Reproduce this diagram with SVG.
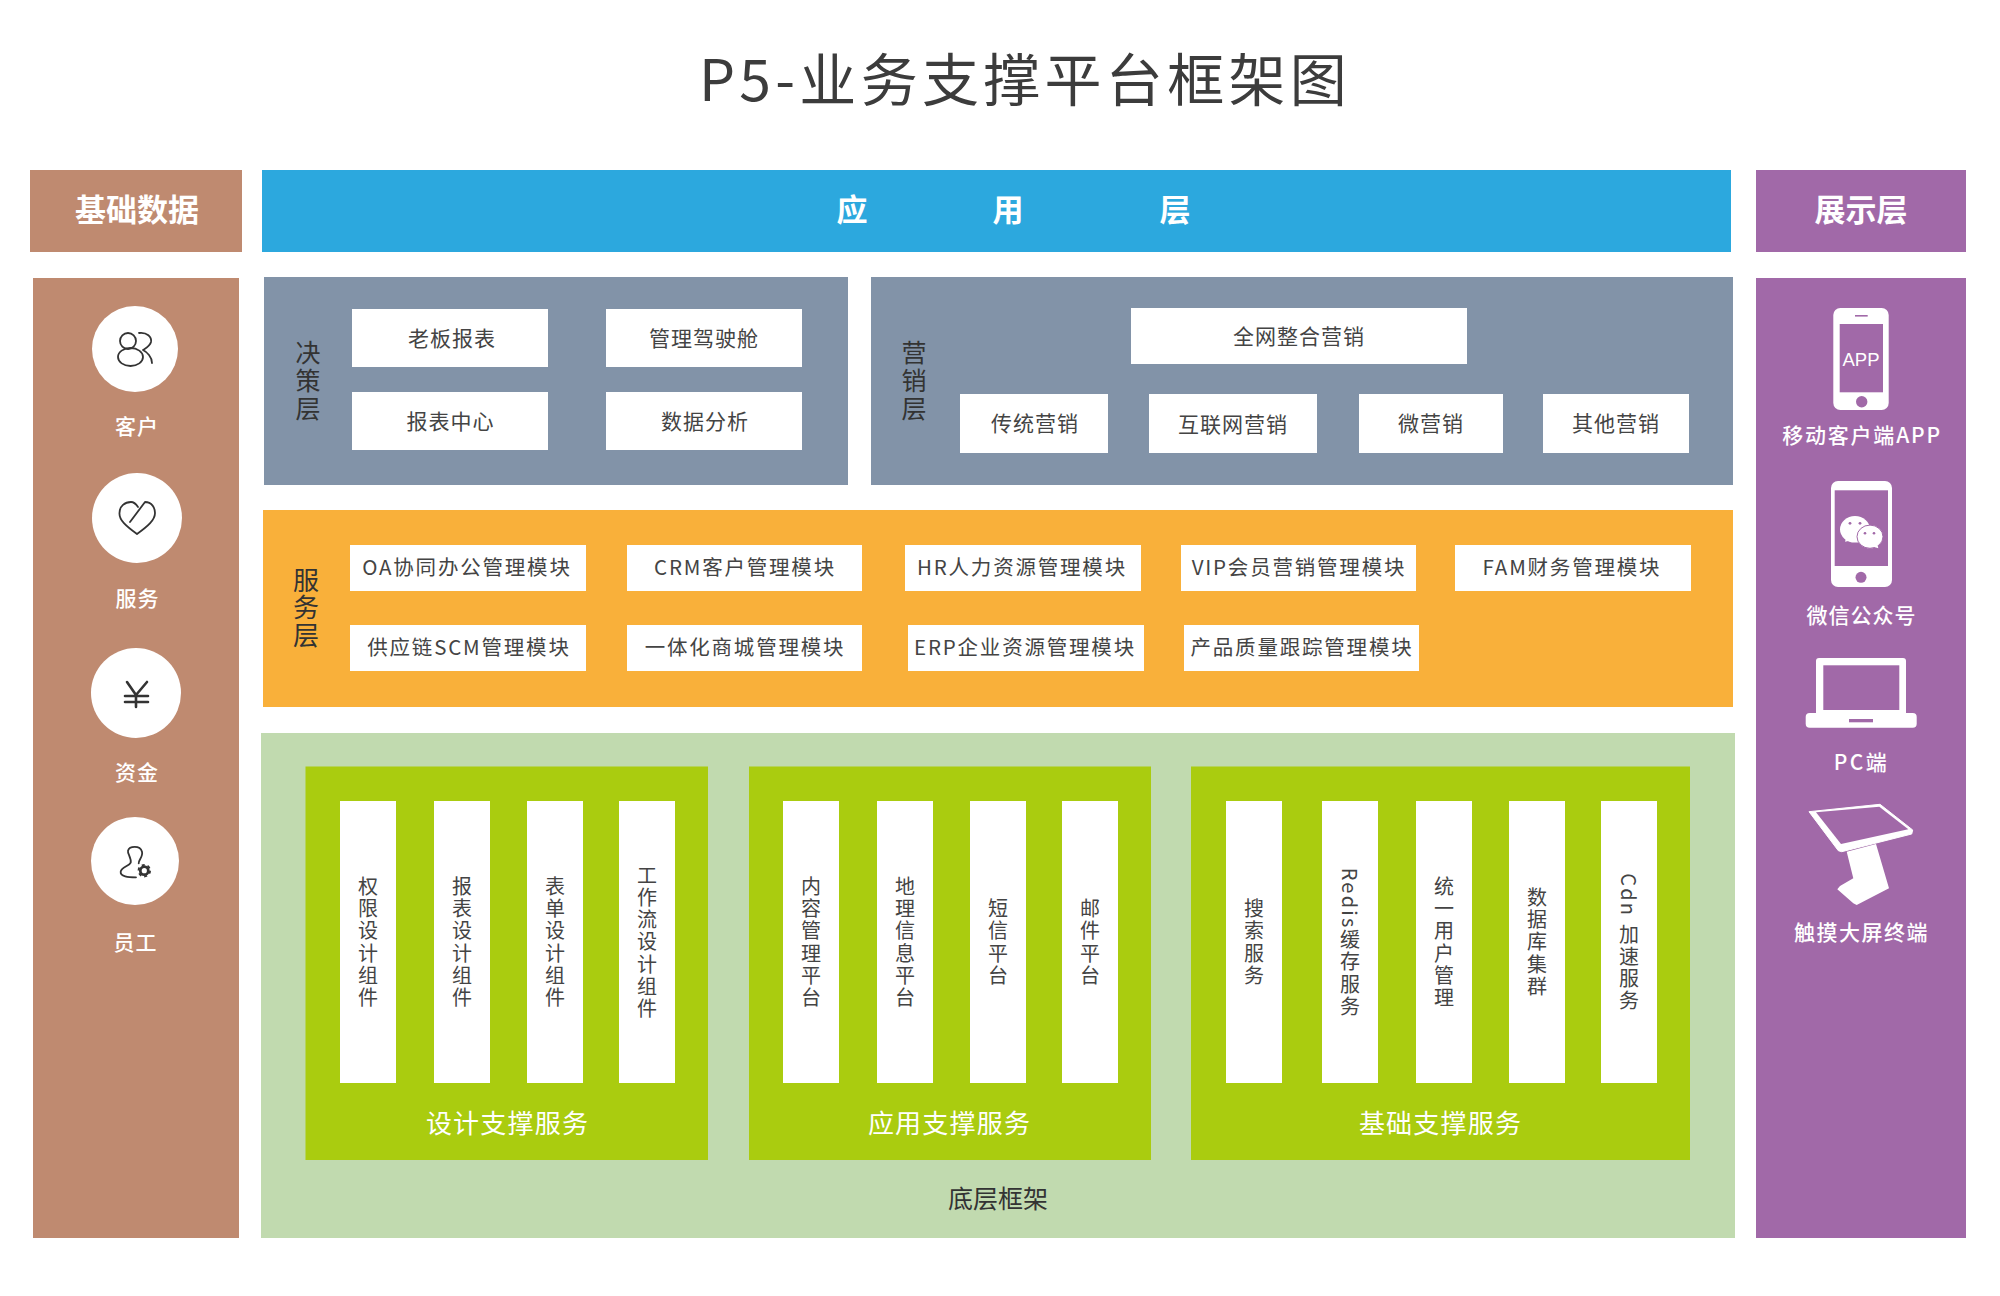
<svg xmlns="http://www.w3.org/2000/svg" width="2000" height="1296" viewBox="0 0 2000 1296">
<style>
text{font-family:"Noto Sans CJK SC","Noto Sans",sans-serif;dominant-baseline:central;text-anchor:middle;fill:#444}
.w{fill:#fff}
.box{fill:#fff}
.t{font-size:21px;letter-spacing:1px}
.m{font-size:20.5px;letter-spacing:1.8px}
.v{writing-mode:vertical-rl;font-size:20px;letter-spacing:2.2px}
.lay{writing-mode:vertical-rl;font-size:25px;letter-spacing:3px;fill:#333}
.h{font-size:31px;font-weight:700;fill:#fff}
.l{font-size:21px;font-weight:500;fill:#fff;letter-spacing:1px}
.s{font-size:26px;fill:#fff;letter-spacing:1.2px}
.brown{fill:#BF8A70}
.pur{fill:#A169A8}
.ic{fill:none;stroke:#333;stroke-width:1.8;stroke-linecap:round;stroke-linejoin:round}
</style>
<rect width="2000" height="1296" fill="#fff"/>
<g id="title"><text x="1025" y="76" style="font-size:57px;letter-spacing:4.3px;fill:#3c3c3c">P5-业务支撑平台框架图</text></g>

<g id="base-data">
<rect class="brown" x="30" y="170" width="212" height="82"/>
<text class="h" x="137" y="207.500">基础数据</text>
<rect class="brown" x="33" y="278" width="206" height="960"/>
</g>
<g id="customer">
<circle cx="135" cy="349" r="43" fill="#fff"/>
<circle class="ic" cx="128" cy="341" r="8"/>
<ellipse class="ic" cx="130.5" cy="357" rx="12.5" ry="9"/>
<path class="ic" d="M139 333C147 332 152 337 151 342C150 346 146 348 143 350C147 352 152 357 152 363"/>
<text class="l" x="137" y="424.500">客户</text>
</g>
<g id="service">
<circle cx="137" cy="518" r="45" fill="#fff"/>
<path class="ic" d="M130 522L145 502C152 502 155 508 155 513C155 520 148 526 137 534C126 526 119 520 119.5 513C119.5 506 125 502 131 502C134 502 136 504 138 507"/>
<text class="l" x="137.500" y="596.500">服务</text>
</g>
<g id="fund">
<circle cx="136" cy="693" r="45" fill="#fff"/>
<path class="ic" style="stroke-width:2.600" d="M127 682L136 695L147 682M125 696H148M125 702H148M136 695V707"/>
<text class="l" x="137" y="770.500">资金</text>
</g>
<g id="staff">
<circle cx="135" cy="861" r="44" fill="#fff"/>
<path class="ic" d="M136 877.300C128.300 877.300 120 876.700 120.700 871.700C121.300 867.300 129.300 866 130.700 862.700C131.700 858.300 127.300 853.300 128 850.700C129.300 846 140 845 142 851.700C143.300 856.700 138.300 860 138.700 863.300"/>
<circle cx="144.300" cy="870.700" r="4" fill="none" stroke="#333" stroke-width="2.800"/>
<circle cx="144.300" cy="870.700" r="5.800" fill="none" stroke="#333" stroke-width="1.800" stroke-dasharray="3 3"/>
<text class="l" x="135.500" y="940.500">员工</text>
</g>

<g id="app-layer">
<rect x="262" y="170" width="1469" height="82" fill="#2CA8DE"/>
<text class="h" x="852" y="207.500">应</text>
<text class="h" x="1008" y="207.500">用</text>
<text class="h" x="1175" y="207.500">层</text>
</g>

<g id="decision-layer">
<rect x="264" y="277" width="584" height="208" fill="#8293A8"/>
<text class="lay" x="308" y="382">决策层</text>
<rect class="box" x="352" y="309" width="196" height="58"/><text class="t" x="452" y="337">老板报表</text>
<rect class="box" x="606" y="309" width="196" height="58"/><text class="t" x="704" y="337">管理驾驶舱</text>
<rect class="box" x="352" y="392" width="196" height="58"/><text class="t" x="450.500" y="420">报表中心</text>
<rect class="box" x="606" y="392" width="196" height="58"/><text class="t" x="705" y="420">数据分析</text>
</g>

<g id="marketing-layer">
<rect x="871" y="277" width="862" height="208" fill="#8293A8"/>
<text class="lay" x="914" y="382">营销层</text>
<rect class="box" x="1131" y="308" width="336" height="56"/><text class="t" x="1299" y="335">全网整合营销</text>
<rect class="box" x="960" y="394" width="148" height="59"/><text class="t" x="1035" y="422">传统营销</text>
<rect class="box" x="1149" y="394" width="168" height="59"/><text class="t" x="1233" y="423">互联网营销</text>
<rect class="box" x="1359" y="394" width="144" height="59"/><text class="t" x="1431" y="422">微营销</text>
<rect class="box" x="1543" y="394" width="146" height="59"/><text class="t" x="1616" y="422">其他营销</text>
</g>

<g id="service-layer">
<rect x="263" y="510" width="1470" height="197" fill="#F9B03A"/>
<text class="lay" x="306" y="608" style="font-size:26px;letter-spacing:1.500px">服务层</text>
<rect class="box" x="350" y="545" width="236" height="46"/><text class="m" x="467" y="566">OA协同办公管理模块</text>
<rect class="box" x="627" y="545" width="235" height="46"/><text class="m" x="745" y="566">CRM客户管理模块</text>
<rect class="box" x="905" y="545" width="236" height="46"/><text class="m" x="1022" y="566">HR人力资源管理模块</text>
<rect class="box" x="1181" y="545" width="235" height="46"/><text class="m" x="1299" y="566">VIP会员营销管理模块</text>
<rect class="box" x="1455" y="545" width="236" height="46"/><text class="m" x="1572" y="566">FAM财务管理模块</text>
<rect class="box" x="350" y="625" width="236" height="46"/><text class="m" x="469" y="646">供应链SCM管理模块</text>
<rect class="box" x="627" y="625" width="235" height="46"/><text class="m" x="745" y="646">一体化商城管理模块</text>
<rect class="box" x="908" y="625" width="236" height="46"/><text class="m" x="1025" y="646">ERP企业资源管理模块</text>
<rect class="box" x="1184" y="625" width="235" height="46"/><text class="m" x="1302" y="646">产品质量跟踪管理模块</text>
</g>

<g id="bottom-layer">
<rect x="261" y="733" width="1474" height="505" fill="#C1DAAF"/>
<text x="998" y="1196.500" style="font-size:25px;fill:#333">底层框架</text>
</g>

<g id="design-support">
<rect x="305.500" y="766.500" width="402.500" height="393.500" fill="#AACC0F"/>
<rect class="box" x="340" y="801" width="56" height="282"/><text class="v" x="368" y="943">权限设计组件</text>
<rect class="box" x="434" y="801" width="56" height="282"/><text class="v" x="462" y="943">报表设计组件</text>
<rect class="box" x="527" y="801" width="56" height="282"/><text class="v" x="555" y="943">表单设计组件</text>
<rect class="box" x="619" y="801" width="56" height="282"/><text class="v" x="647" y="943">工作流设计组件</text>
<text class="s" x="507.500" y="1121.500">设计支撑服务</text>
</g>
<g id="app-support">
<rect x="749" y="766.500" width="402" height="393.500" fill="#AACC0F"/>
<rect class="box" x="783" y="801" width="56" height="282"/><text class="v" x="811" y="943">内容管理平台</text>
<rect class="box" x="877" y="801" width="56" height="282"/><text class="v" x="905" y="943">地理信息平台</text>
<rect class="box" x="970" y="801" width="56" height="282"/><text class="v" x="998" y="943">短信平台</text>
<rect class="box" x="1062" y="801" width="56" height="282"/><text class="v" x="1090" y="943">邮件平台</text>
<text class="s" x="949.500" y="1121.500">应用支撑服务</text>
</g>
<g id="infra-support">
<rect x="1191" y="766.500" width="499" height="393.500" fill="#AACC0F"/>
<rect class="box" x="1226" y="801" width="56" height="282"/><text class="v" x="1254" y="943">搜索服务</text>
<rect class="box" x="1322" y="801" width="56" height="282"/><text class="v" x="1350" y="943">Redis缓存服务</text>
<rect class="box" x="1416" y="801" width="56" height="282"/><text class="v" x="1444" y="943">统一用户管理</text>
<rect class="box" x="1509" y="801" width="56" height="282"/><text class="v" x="1537" y="943">数据库集群</text>
<rect class="box" x="1601" y="801" width="56" height="282"/><text class="v" x="1629" y="943">Cdn 加速服务</text>
<text class="s" x="1440.500" y="1121.500">基础支撑服务</text>
</g>

<g id="display-layer">
<rect class="pur" x="1756" y="170" width="210" height="82"/>
<text class="h" x="1861" y="207.500">展示层</text>
<rect class="pur" x="1756" y="278" width="210" height="960"/>
</g>
<g id="mobile-app">
<rect x="1833.300" y="308" width="55.400" height="102" rx="7" fill="#fff"/>
<rect class="pur" x="1839.700" y="324" width="43.300" height="68.300"/>
<rect class="pur" x="1855" y="315" width="12.700" height="1.600"/>
<circle class="pur" cx="1861.700" cy="401.700" r="5.700"/>
<text class="w" x="1861" y="359" style="font-family:'Liberation Sans',sans-serif;font-size:18.500px">APP</text>
<text class="l" x="1862" y="433.500" style="letter-spacing:1.800px">移动客户端APP</text>
</g>
<g id="wechat">
<rect x="1831" y="481" width="61" height="106" rx="7" fill="#fff"/>
<rect class="pur" x="1834.700" y="490.300" width="53.300" height="75.700"/>
<circle class="pur" cx="1861" cy="577.300" r="5.500"/>
<ellipse cx="1855" cy="529.300" rx="15" ry="13.300" fill="#fff"/>
<path d="M1845 541.700L1847 535L1853 540Z" fill="#fff"/>
<ellipse cx="1870" cy="536.700" rx="13" ry="11.600" fill="#fff" stroke="#A169A8" stroke-width="1"/>
<path d="M1878.300 548.300L1871 546L1877 543Z" fill="#fff"/>
<circle class="pur" cx="1850" cy="523.300" r="1.400"/><circle class="pur" cx="1860" cy="523.300" r="1.400"/>
<circle class="pur" cx="1865" cy="533.300" r="1.300"/><circle class="pur" cx="1874" cy="533.300" r="1.300"/>
<text class="l" x="1861.500" y="613.500">微信公众号</text>
</g>
<g id="pc">
<path d="M1819 658H1903Q1906 658 1906 661V713H1816V661Q1816 658 1819 658Z" fill="#fff"/>
<rect class="pur" x="1823.300" y="665.300" width="76" height="44.700"/>
<rect x="1805.700" y="713" width="111" height="14.700" rx="4" fill="#fff"/>
<rect class="pur" x="1849" y="719" width="24" height="3.300"/>
<text class="l" x="1861.500" y="760.500" style="letter-spacing:2.500px">PC端</text>
</g>
<g id="kiosk">
<path d="M1809 811.700L1880 804.300L1912.700 830L1911.700 834L1841.700 851.700L1838.300 850.700Z" fill="#fff" stroke="#fff" stroke-width="1" stroke-linejoin="round"/>
<path class="pur" d="M1816 812.300L1879.300 806.700L1908.300 829.300L1841 844Z"/>
<path d="M1846.700 851.700L1876 844L1889 888.300L1856.700 905L1853.300 903.300L1837.300 889.300L1840 886L1853.300 878.300Z" fill="#fff"/>
<text class="l" x="1861.500" y="930.500" style="letter-spacing:1.500px">触摸大屏终端</text>
</g>
</svg>
